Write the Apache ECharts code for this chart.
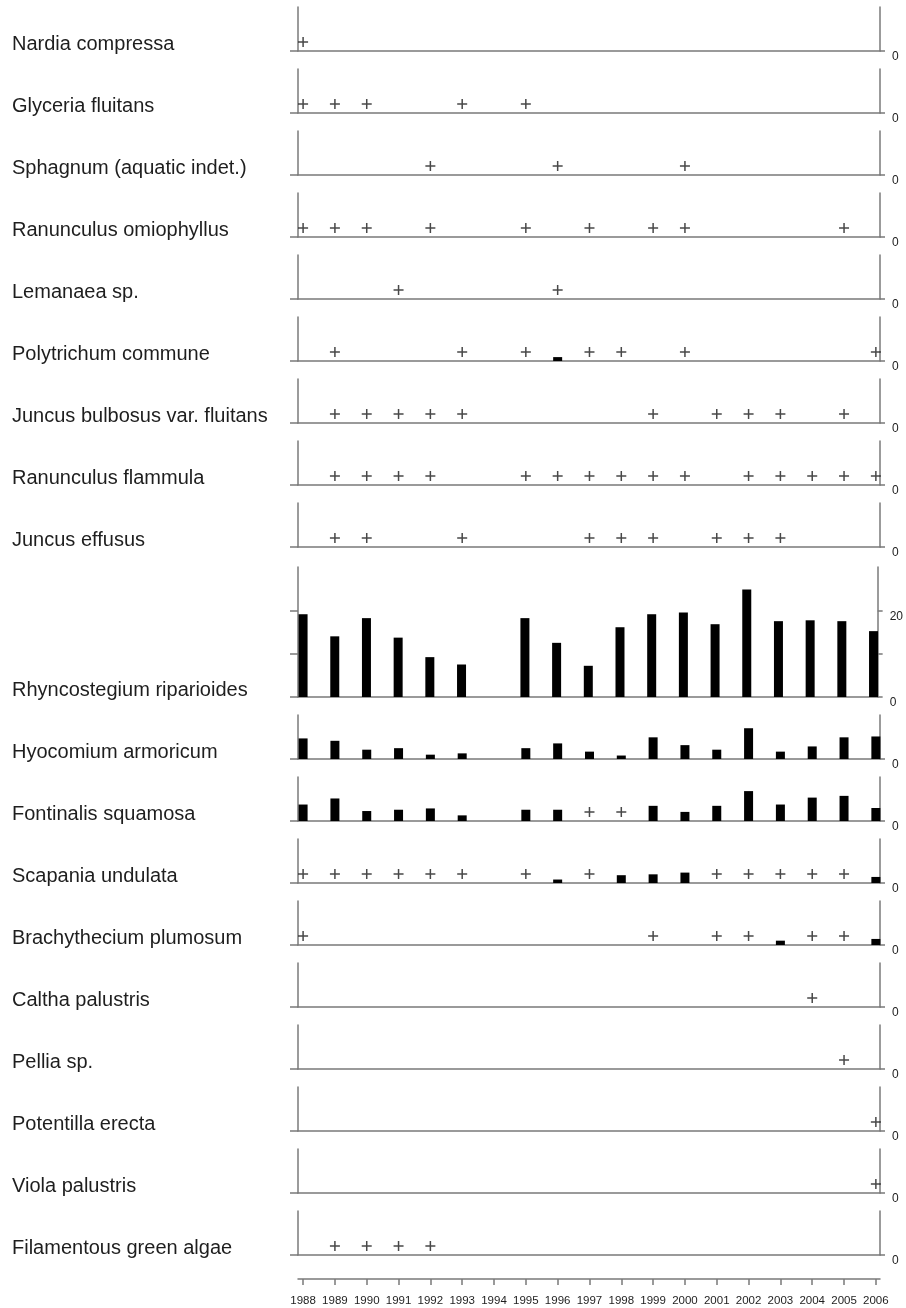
<!DOCTYPE html>
<html>
<head>
<meta charset="utf-8">
<script src="https://cdn.jsdelivr.net/npm/echarts@6/dist/echarts.min.js"></script>
<style>html,body{margin:0;padding:0;background:#fff}#chart{width:906px;height:1308px}</style>
</head>
<body>
<div id="chart"></div>
<script>
// ---------- DATA ----------
const years = [1988,1989,1990,1991,1992,1993,1994,1995,1996,1997,1998,1999,2000,2001,2002,2003,2004,2005,2006];
const species = [
  "Nardia compressa",
  "Glyceria fluitans",
  "Sphagnum (aquatic indet.)",
  "Ranunculus omiophyllus",
  "Lemanaea sp.",
  "Polytrichum commune",
  "Juncus bulbosus var. fluitans",
  "Ranunculus flammula",
  "Juncus effusus",
  "Rhyncostegium riparioides",
  "Hyocomium armoricum",
  "Fontinalis squamosa",
  "Scapania undulata",
  "Brachythecium plumosum",
  "Caltha palustris",
  "Pellia sp.",
  "Potentilla erecta",
  "Viola palustris",
  "Filamentous green algae"
];
// years where the taxon was recorded as present ("+"), same order as species
const presenceYears = [
  [1988],
  [1988,1989,1990,1993,1995],
  [1992,1996,2000],
  [1988,1989,1990,1992,1995,1997,1999,2000,2005],
  [1991,1996],
  [1989,1993,1995,1997,1998,2000,2006],
  [1989,1990,1991,1992,1993,1999,2001,2002,2003,2005],
  [1989,1990,1991,1992,1995,1996,1997,1998,1999,2000,2002,2003,2004,2005,2006],
  [1989,1990,1993,1997,1998,1999,2001,2002,2003],
  [],
  [],
  [1997,1998],
  [1988,1989,1990,1991,1992,1993,1995,1997,2001,2002,2003,2004,2005],
  [1988,1999,2001,2002,2004,2005],
  [2004],
  [2005],
  [2006],
  [2006],
  [1989,1990,1991,1992]
];
// abundance values aligned with years (null = no bar)
const polytrichum   = [null,null,null,null,null,null,null,null,0.9,null,null,null,null,null,null,null,null,null,null];
const rhyncostegium = [19.1,14.0,18.2,13.7,9.2,7.5,null,18.2,12.5,7.2,16.1,19.1,19.5,16.8,24.8,17.5,17.7,17.5,15.2];
const hyocomium     = [4.75,4.2,2.15,2.5,1.0,1.3,null,2.5,3.6,1.7,0.8,5.0,3.2,2.15,7.1,1.7,2.9,5.0,5.2];
const fontinalis    = [3.8,5.2,2.3,2.6,2.9,1.3,null,2.6,2.6,null,null,3.5,2.1,3.5,6.9,3.8,5.4,5.8,3.0];
const scapania      = [null,null,null,null,null,null,null,null,0.8,null,1.8,2.0,2.4,null,null,null,null,null,1.4];
const brachythecium = [null,null,null,null,null,null,null,null,null,null,null,null,null,null,null,1.0,null,null,1.4];
const abundance = {
  "Polytrichum commune": polytrichum,
  "Rhyncostegium riparioides": rhyncostegium,
  "Hyocomium armoricum": hyocomium,
  "Fontinalis squamosa": fontinalis,
  "Scapania undulata": scapania,
  "Brachythecium plumosum": brachythecium
};
const tallSpecies = "Rhyncostegium riparioides";
const tallMax = 30;
const tallTicks = [0,10,20];
const tallLabels = [0,20];

// ---------- LAYOUT ----------
const FONT = "'Liberation Sans', Arial, sans-serif";
const AXIS = '#7a7a7a';
const pxPerUnit = 130 / tallMax;
const smallH = 44, tallH = 130, step = 62;
const xMin = 1987.84, xMax = 2006.13;
const gridLeft = 298, gridRight = 26;
const plusPath = 'path://M0,5L10,5M5,0L5,10';

const grids = [], xAxes = [], yAxes = [], series = [], titles = [];
let baseline = 51;
species.forEach((name, i) => {
  const tall = name === tallSpecies;
  if (i > 0) baseline += tall ? (tallH + 20) : step;
  const h = tall ? tallH : smallH;
  const yMax = h / pxPerUnit;
  grids.push({left: gridLeft, right: gridRight, top: baseline - h, height: h});
  titles.push({
    text: name, left: 12, top: baseline - 17, padding: 0,
    textStyle: {fontFamily: FONT, fontSize: 20, fontWeight: 'normal', color: '#1e1e1e', lineHeight: 20}
  });
  xAxes.push({
    type: 'value', gridIndex: i, min: xMin, max: xMax, position: 'bottom',
    axisLine: {show: true, lineStyle: {color: AXIS, width: 1.5}},
    axisTick: {show: false}, axisLabel: {show: false}, splitLine: {show: false}
  });
  const ticks = tall ? tallTicks : [0];
  const labs = tall ? tallLabels : [0];
  yAxes.push({
    type: 'value', gridIndex: i, min: 0, max: yMax, position: 'left',
    axisLine: {show: true, onZero: false, lineStyle: {color: AXIS, width: 1.5}},
    axisTick: {show: true, length: 8, customValues: ticks, lineStyle: {color: AXIS, width: 1.5}},
    axisLabel: {show: false}, splitLine: {show: false}
  });
  yAxes.push({
    type: 'value', gridIndex: i, min: 0, max: yMax, position: 'right',
    axisLine: {show: true, onZero: false, lineStyle: {color: AXIS, width: 1.5}},
    axisTick: {show: true, length: 5, customValues: ticks, lineStyle: {color: AXIS, width: 1.5}},
    axisLabel: {show: true, customValues: labs, margin: 12, verticalAlign: 'top',
      fontFamily: FONT, fontSize: 12, color: '#222'},
    splitLine: {show: false}
  });
  const ab = abundance[name];
  if (ab) {
    series.push({
      type: 'bar', xAxisIndex: i, yAxisIndex: 2*i, barWidth: 9,
      itemStyle: {color: '#000'},
      data: years.map((y, k) => ab[k] == null ? null : [y, ab[k]]).filter(d => d),
      animation: false
    });
  }
  series.push({
    type: 'scatter', xAxisIndex: i, yAxisIndex: 2*i,
    symbol: plusPath, symbolSize: 10, symbolOffset: [0, -9],
    itemStyle: {color: 'none', borderColor: '#1a1a1a', borderWidth: 1.5},
    data: presenceYears[i].map(y => [y, 0]),
    clip: false, animation: false
  });
});

// bottom year axis
const bi = species.length;
grids.push({left: gridLeft, right: gridRight, top: 1270, height: 9});
xAxes.push({
  type: 'value', gridIndex: bi, min: xMin, max: xMax, position: 'bottom',
  axisLine: {show: true, lineStyle: {color: AXIS, width: 1.5}},
  axisTick: {show: true, length: 6, customValues: years, lineStyle: {color: AXIS, width: 1.5}},
  axisLabel: {show: true, customValues: years, margin: 16, fontFamily: FONT, fontSize: 11.5, color: '#1e1e1e',
    formatter: v => String(Math.round(v))},
  splitLine: {show: false}
});
yAxes.push({type: 'value', gridIndex: bi, show: false});

const chart = echarts.init(document.getElementById('chart'), null, {renderer: 'canvas'});
chart.setOption({
  backgroundColor: '#fff',
  animation: false,
  title: titles,
  grid: grids,
  xAxis: xAxes,
  yAxis: yAxes,
  series: series
});
</script>
</body>
</html>
